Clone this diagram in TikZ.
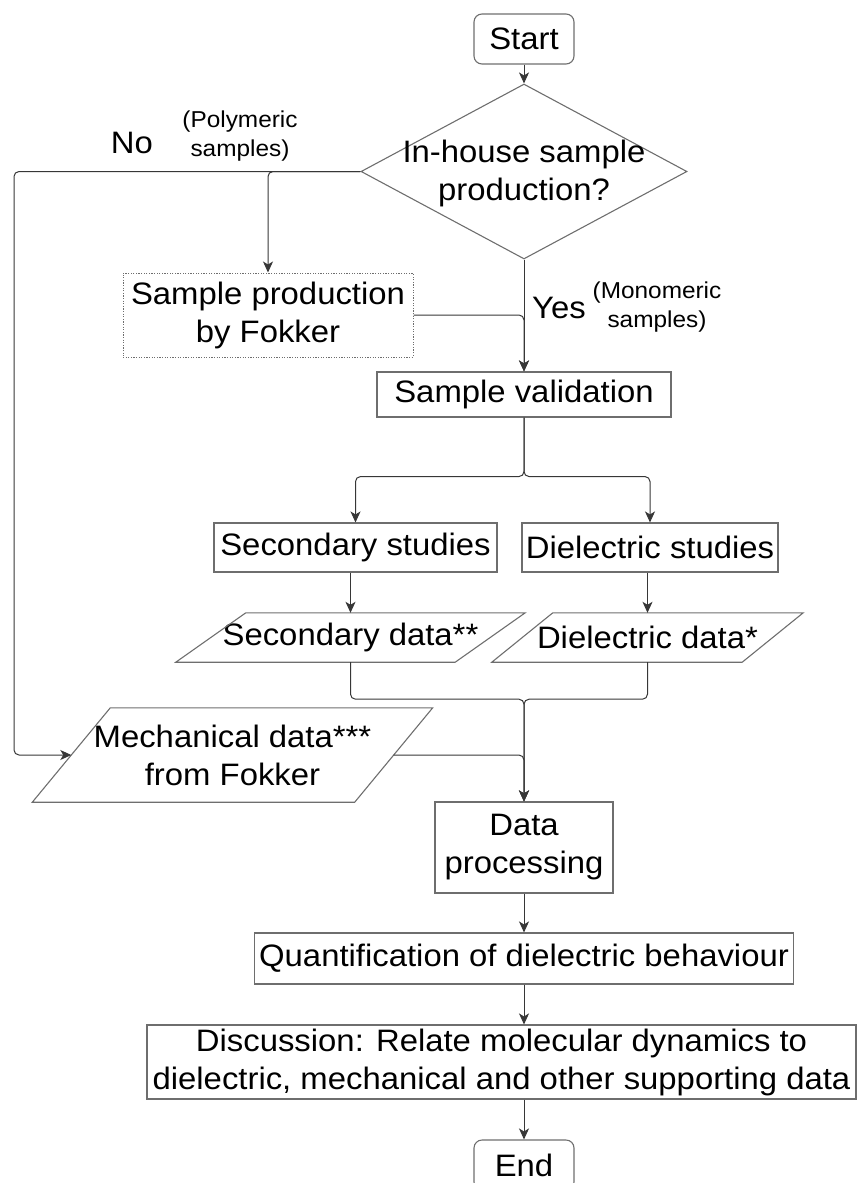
\documentclass[tikz,border=0pt]{standalone}
\usepackage{fontspec}
\setmainfont{Liberation Sans}[FakeStretch=1.06]
\usetikzlibrary{shapes.geometric,arrows.meta,calc}
\definecolor{bord}{RGB}{110,110,110}
\definecolor{lin}{RGB}{55,55,55}
\begin{document}
\begin{tikzpicture}[x=1pt,y=-1pt,
  every node/.style={font=\fontsize{31}{38}\selectfont, text=black, inner sep=0pt, align=center},
  smalltxt/.style={font=\fontsize{23}{29}\selectfont},
  boxnode/.style={draw=bord, line width=1.1pt, rectangle},
  term/.style={boxnode, rounded corners=8pt, minimum width=100pt, minimum height=50pt},
  dotbox/.style={draw=bord, line width=1pt, dash pattern=on 1.2pt off 1.4pt, rectangle},
  io/.style={rectangle},
  para/.style={draw=bord, line width=1.1pt},
  conn/.style={draw=lin, line width=1pt, rounded corners=5pt, -{Stealth[length=11pt,width=10pt,inset=3pt]}}
]
\useasboundingbox (0,0) rectangle (857,1183);

% nodes
\node[term] (start) at (524,39) {Start};
\node[draw=bord, line width=1.1pt, shape=diamond, aspect=1.86, minimum width=326pt, minimum height=175pt] (dec) at (524,171.5) {};
\node (dectext) at (524,173) {In-house sample\\production?};
\node[dotbox, minimum width=290pt, minimum height=84pt] (prod) at (268,315) {Sample production\\by Fokker};
\node[boxnode, minimum width=294pt, minimum height=45pt] (val) at (524,394.5) {Sample validation};
\node[boxnode, minimum width=283pt, minimum height=49pt] (sec) at (355.5,547.5) {Secondary studies};
\node[boxnode, minimum width=256pt, minimum height=49pt] (diel) at (650,547.5) {Dielectric studies};
\node[io, minimum width=279pt, minimum height=49pt] (secd) at (350.5,637.5) {Secondary data**};
\node[io, minimum width=250pt, minimum height=49pt] (dield) at (647.5,637.5) {Dielectric data*};
\node[io, minimum width=322pt, minimum height=94pt] (mech) at (232.5,755) {Mechanical data***\\from Fokker};
\node[boxnode, minimum width=178pt, minimum height=91pt] (dp) at (524,847.5) {Data\\processing};
\node[boxnode, minimum width=539pt, minimum height=51pt] (quant) at (524,958.5) {Quantification of dielectric behaviour};
\node[boxnode, minimum width=709pt, minimum height=74pt] (disc) at (501.5,1062) {Discussion: Relate molecular dynamics to\\dielectric, mechanical and other supporting data};
\node[term] (end) at (524,1165) {End};

% parallelogram outlines
\draw[para] ([xshift=-35pt]secd.south west) -- ([xshift=-35pt]secd.south east) -- ([xshift=35pt]secd.north east) -- ([xshift=35pt]secd.north west) -- cycle;
\draw[para] ([xshift=-30.5pt]dield.south west) -- ([xshift=-30.5pt]dield.south east) -- ([xshift=30.5pt]dield.north east) -- ([xshift=30.5pt]dield.north west) -- cycle;
\draw[para] ([xshift=-39pt]mech.south west) -- ([xshift=-39pt]mech.south east) -- ([xshift=39pt]mech.north east) -- ([xshift=39pt]mech.north west) -- cycle;

% labels
\node (no) at (132,143) {No};
\node[smalltxt] (poly) at (240,136) {(Polymeric\\samples)};
\node (yes) at (559,308) {Yes};
\node[smalltxt] (mono) at (657,307) {(Monomeric\\samples)};

% connectors
\coordinate (lft) at (14,755);
\draw[conn] (start) -- (dec);
\draw[conn] (dec.west) -| (lft) -- (mech.west);
\draw[conn] (dec.west) -| (prod.north);
\draw[conn] (dec.south) -- (val.north);
\draw[conn] (prod.east) -| (val.north);
\draw[conn] (val.south) -- ++(0,59) -| (sec.north);
\draw[conn] (val.south) -- ++(0,59) -| (diel.north);
\draw[conn] (sec.south -| secd.north) -- (secd.north);
\draw[conn] (diel.south -| dield.north) -- (dield.north);
\draw[conn] (secd.south) -- ++(0,37) -| (dp.north);
\draw[conn] (dield.south) -- ++(0,37) -| (dp.north);
\draw[conn] (mech.east) -| (dp.north);
\draw[conn] (dp) -- (quant);
\draw[conn] (quant.south) -- (quant.south |- disc.north);
\draw[conn] (disc.south -| end.north) -- (end.north);
\end{tikzpicture}
\end{document}
